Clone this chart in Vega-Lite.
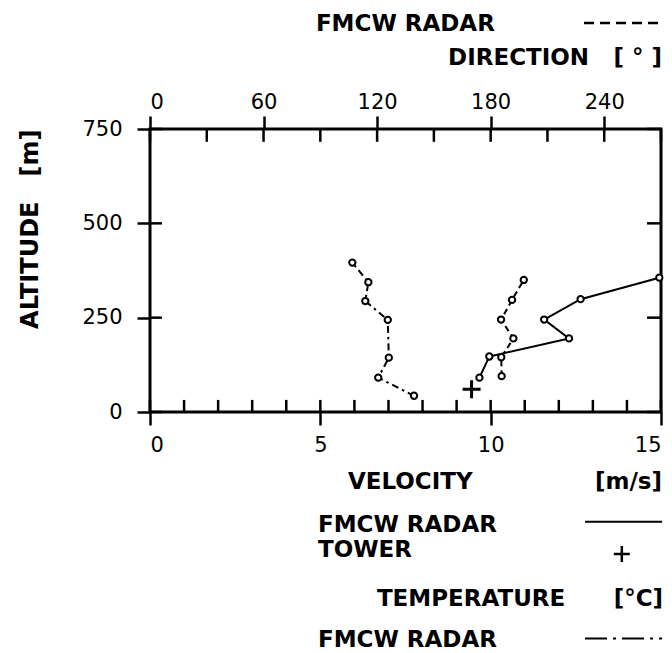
{
  "$schema": "https://vega.github.io/schema/vega-lite/v6.json",
  "width": 511,
  "height": 283,
  "autosize": {"type": "none"},
  "padding": {"left": 150, "top": 129, "right": 11, "bottom": 241},
  "background": "white",
  "config": {
    "view": {"stroke": "black", "strokeWidth": 3},
    "axis": {
      "domain": false,
      "grid": false,
      "tickColor": "black",
      "tickWidth": 2.5,
      "labelFont": "DejaVu Sans",
      "labelFontSize": 21,
      "labelColor": "black",
      "titleFont": "DejaVu Sans",
      "titleFontSize": 24,
      "titleFontWeight": "bold",
      "titleColor": "black"
    },
    "text": {"font": "DejaVu Sans", "fontSize": 23, "fontWeight": "bold", "color": "black"}
  },
  "datasets": {
    "velocity": [
      {"alt": 91, "vel": 9.67},
      {"alt": 147, "vel": 9.96},
      {"alt": 195, "vel": 12.3},
      {"alt": 245, "vel": 11.57},
      {"alt": 299, "vel": 12.64},
      {"alt": 356, "vel": 14.95}
    ],
    "direction": [
      {"alt": 95, "dir": 185.8},
      {"alt": 145, "dir": 185.6},
      {"alt": 195, "dir": 192.0},
      {"alt": 245, "dir": 185.5},
      {"alt": 297, "dir": 191.3},
      {"alt": 350, "dir": 197.5}
    ],
    "temperature": [
      {"alt": 43, "temp": 7.75},
      {"alt": 91, "temp": 6.7},
      {"alt": 144, "temp": 7.01},
      {"alt": 244, "temp": 6.98},
      {"alt": 294, "temp": 6.32},
      {"alt": 344, "temp": 6.41},
      {"alt": 396, "temp": 5.94}
    ],
    "tower": [
      {"alt": 60, "vel": 9.44}
    ],
    "velTicks": [
      {"v": 0}, {"v": 1}, {"v": 2}, {"v": 3}, {"v": 4}, {"v": 5}, {"v": 6}, {"v": 7},
      {"v": 8}, {"v": 9}, {"v": 10}, {"v": 11}, {"v": 12}, {"v": 13}, {"v": 14}, {"v": 15}
    ],
    "dirTicks": [
      {"d": 0}, {"d": 30}, {"d": 60}, {"d": 90}, {"d": 120}, {"d": 150}, {"d": 180}, {"d": 210}, {"d": 240}, {"d": 270}
    ],
    "altTicks": [
      {"a": 0}, {"a": 250}, {"a": 500}, {"a": 750}
    ]
  },
  "layer": [
    {
      "data": {"name": "velocity"},
      "mark": {"type": "line", "color": "black", "strokeWidth": 2},
      "encoding": {
        "x": {"field": "vel", "type": "quantitative", "scale": {"domain": [0, 15], "nice": false, "zero": false},
          "axis": {"orient": "bottom", "values": [0, 5, 10, 15], "tickSize": 13, "labelPadding": 9, "title": null}},
        "y": {"field": "alt", "type": "quantitative", "scale": {"domain": [0, 750], "nice": false, "zero": false},
          "axis": {"orient": "left", "values": [0, 250, 500, 750], "tickSize": 13, "labelPadding": 15,
            "title": "ALTITUDE\u00a0\u00a0\u00a0[m]", "titleX": -120, "titleY": 0, "titleAlign": "right", "titleBaseline": "middle", "titleAngle": -90}},
        "order": {"field": "alt", "type": "quantitative"}
      }
    },
    {
      "data": {"name": "velTicks"},
      "mark": {"type": "rule", "color": "black", "strokeWidth": 2.5},
      "encoding": {
        "x": {"field": "v", "type": "quantitative", "scale": {"domain": [0, 15], "nice": false, "zero": false}, "axis": null},
        "y": {"datum": 0, "type": "quantitative", "axis": null},
        "y2": {"datum": 32}
      }
    },
    {
      "data": {"name": "dirTicks"},
      "mark": {"type": "rule", "color": "black", "strokeWidth": 2.5},
      "encoding": {
        "x": {"field": "d", "type": "quantitative", "scale": {"domain": [0, 270], "nice": false, "zero": false}, "axis": null},
        "y": {"datum": 750, "type": "quantitative", "axis": null},
        "y2": {"datum": 716}
      }
    },
    {
      "data": {"name": "altTicks"},
      "mark": {"type": "rule", "color": "black", "strokeWidth": 2.5},
      "encoding": {
        "x": {"datum": 0, "type": "quantitative", "scale": {"domain": [0, 15], "nice": false, "zero": false}, "axis": null},
        "x2": {"datum": 0.35},
        "y": {"field": "a", "type": "quantitative", "axis": null}
      }
    },
    {
      "data": {"name": "altTicks"},
      "mark": {"type": "rule", "color": "black", "strokeWidth": 2.5},
      "encoding": {
        "x": {"datum": 14.59, "type": "quantitative", "scale": {"domain": [0, 15], "nice": false, "zero": false}, "axis": null},
        "x2": {"datum": 15},
        "y": {"field": "a", "type": "quantitative", "axis": null}
      }
    },
    {
      "data": {"name": "velocity"},
      "mark": {"type": "point", "shape": "circle", "filled": true, "fill": "white", "stroke": "black", "strokeWidth": 2, "size": 40, "opacity": 1},
      "encoding": {
        "x": {"field": "vel", "type": "quantitative", "scale": {"domain": [0, 15], "nice": false, "zero": false}, "axis": null},
        "y": {"field": "alt", "type": "quantitative", "axis": null}
      }
    },
    {
      "data": {"name": "temperature"},
      "mark": {"type": "line", "color": "black", "strokeWidth": 2, "strokeDash": [7, 4, 2.5, 4]},
      "encoding": {
        "x": {"field": "temp", "type": "quantitative", "scale": {"domain": [0, 15], "nice": false, "zero": false}, "axis": null},
        "y": {"field": "alt", "type": "quantitative", "axis": null},
        "order": {"field": "alt", "type": "quantitative"}
      }
    },
    {
      "data": {"name": "temperature"},
      "mark": {"type": "point", "shape": "circle", "filled": true, "fill": "white", "stroke": "black", "strokeWidth": 2, "size": 40, "opacity": 1},
      "encoding": {
        "x": {"field": "temp", "type": "quantitative", "scale": {"domain": [0, 15], "nice": false, "zero": false}, "axis": null},
        "y": {"field": "alt", "type": "quantitative", "axis": null}
      }
    },
    {
      "data": {"name": "direction"},
      "mark": {"type": "line", "color": "black", "strokeWidth": 2, "strokeDash": [6, 4]},
      "encoding": {
        "x": {"field": "dir", "type": "quantitative", "scale": {"domain": [0, 270], "nice": false, "zero": false},
          "axis": {"orient": "top", "values": [0, 60, 120, 180, 240], "tickSize": 13, "labelPadding": 4, "title": null}},
        "y": {"field": "alt", "type": "quantitative", "axis": null},
        "order": {"field": "alt", "type": "quantitative"}
      }
    },
    {
      "data": {"name": "direction"},
      "mark": {"type": "point", "shape": "circle", "filled": true, "fill": "white", "stroke": "black", "strokeWidth": 2, "size": 40, "opacity": 1},
      "encoding": {
        "x": {"field": "dir", "type": "quantitative", "scale": {"domain": [0, 270], "nice": false, "zero": false}, "axis": null},
        "y": {"field": "alt", "type": "quantitative", "axis": null}
      }
    },
    {
      "data": {"name": "tower"},
      "mark": {"type": "point", "shape": "M-1,0L1,0M0,-1L0,1", "filled": false, "stroke": "black", "strokeWidth": 3, "size": 324, "opacity": 1},
      "encoding": {
        "x": {"field": "vel", "type": "quantitative", "scale": {"domain": [0, 15], "nice": false, "zero": false}, "axis": null},
        "y": {"field": "alt", "type": "quantitative", "axis": null}
      }
    },
    {
      "data": {"values": [{}]},
      "mark": {"type": "text", "text": "FMCW RADAR", "align": "left", "baseline": "middle"},
      "encoding": {"x": {"datum": 4.87, "type": "quantitative", "scale": {"domain": [0, 15]}, "axis": null}, "y": {"datum": 1028, "type": "quantitative", "axis": null}}
    },
    {
      "data": {"values": [{}]},
      "mark": {"type": "rule", "color": "black", "strokeWidth": 2.5, "strokeDash": [10, 6]},
      "encoding": {"x": {"datum": 12.74, "type": "quantitative", "scale": {"domain": [0, 15]}, "axis": null}, "x2": {"datum": 15.0}, "y": {"datum": 1031, "type": "quantitative", "axis": null}}
    },
    {
      "data": {"values": [{}]},
      "mark": {"type": "text", "text": "DIRECTION", "align": "left", "baseline": "middle"},
      "encoding": {"x": {"datum": 8.75, "type": "quantitative", "scale": {"domain": [0, 15]}, "axis": null}, "y": {"datum": 938, "type": "quantitative", "axis": null}}
    },
    {
      "data": {"values": [{}]},
      "mark": {"type": "text", "text": "[ ° ]", "align": "right", "baseline": "middle"},
      "encoding": {"x": {"datum": 15.03, "type": "quantitative", "scale": {"domain": [0, 15]}, "axis": null}, "y": {"datum": 938, "type": "quantitative", "axis": null}}
    },
    {
      "data": {"values": [{}]},
      "mark": {"type": "text", "text": "VELOCITY", "align": "left", "baseline": "middle"},
      "encoding": {"x": {"datum": 5.81, "type": "quantitative", "scale": {"domain": [0, 15]}, "axis": null}, "y": {"datum": -185, "type": "quantitative", "axis": null}}
    },
    {
      "data": {"values": [{}]},
      "mark": {"type": "text", "text": "[m/s]", "align": "right", "baseline": "middle"},
      "encoding": {"x": {"datum": 15.03, "type": "quantitative", "scale": {"domain": [0, 15]}, "axis": null}, "y": {"datum": -185, "type": "quantitative", "axis": null}}
    },
    {
      "data": {"values": [{}]},
      "mark": {"type": "text", "text": "FMCW RADAR", "align": "left", "baseline": "middle"},
      "encoding": {"x": {"datum": 4.93, "type": "quantitative", "scale": {"domain": [0, 15]}, "axis": null}, "y": {"datum": -300, "type": "quantitative", "axis": null}}
    },
    {
      "data": {"values": [{}]},
      "mark": {"type": "rule", "color": "black", "strokeWidth": 2},
      "encoding": {"x": {"datum": 12.77, "type": "quantitative", "scale": {"domain": [0, 15]}, "axis": null}, "x2": {"datum": 15.03}, "y": {"datum": -291, "type": "quantitative", "axis": null}}
    },
    {
      "data": {"values": [{}]},
      "mark": {"type": "text", "text": "TOWER", "align": "left", "baseline": "middle"},
      "encoding": {"x": {"datum": 4.93, "type": "quantitative", "scale": {"domain": [0, 15]}, "axis": null}, "y": {"datum": -365, "type": "quantitative", "axis": null}}
    },
    {
      "data": {"values": [{}]},
      "mark": {"type": "point", "shape": "M-1,0L1,0M0,-1L0,1", "filled": false, "stroke": "black", "strokeWidth": 2.5, "size": 256, "opacity": 1},
      "encoding": {"x": {"datum": 13.85, "type": "quantitative", "scale": {"domain": [0, 15]}, "axis": null}, "y": {"datum": -376, "type": "quantitative", "axis": null}}
    },
    {
      "data": {"values": [{}]},
      "mark": {"type": "text", "text": "TEMPERATURE", "align": "left", "baseline": "middle"},
      "encoding": {"x": {"datum": 6.66, "type": "quantitative", "scale": {"domain": [0, 15]}, "axis": null}, "y": {"datum": -496, "type": "quantitative", "axis": null}}
    },
    {
      "data": {"values": [{}]},
      "mark": {"type": "text", "text": "[°C]", "align": "right", "baseline": "middle"},
      "encoding": {"x": {"datum": 15.06, "type": "quantitative", "scale": {"domain": [0, 15]}, "axis": null}, "y": {"datum": -496, "type": "quantitative", "axis": null}}
    },
    {
      "data": {"values": [{}]},
      "mark": {"type": "text", "text": "FMCW RADAR", "align": "left", "baseline": "middle"},
      "encoding": {"x": {"datum": 4.93, "type": "quantitative", "scale": {"domain": [0, 15]}, "axis": null}, "y": {"datum": -605, "type": "quantitative", "axis": null}}
    },
    {
      "data": {"values": [{}]},
      "mark": {"type": "rule", "color": "black", "strokeWidth": 2, "strokeDash": [22, 6, 3, 6]},
      "encoding": {"x": {"datum": 12.77, "type": "quantitative", "scale": {"domain": [0, 15]}, "axis": null}, "x2": {"datum": 15.03}, "y": {"datum": -600, "type": "quantitative", "axis": null}}
    }
  ],
  "resolve": {"scale": {"x": "independent"}, "axis": {"x": "independent", "y": "independent"}}
}
